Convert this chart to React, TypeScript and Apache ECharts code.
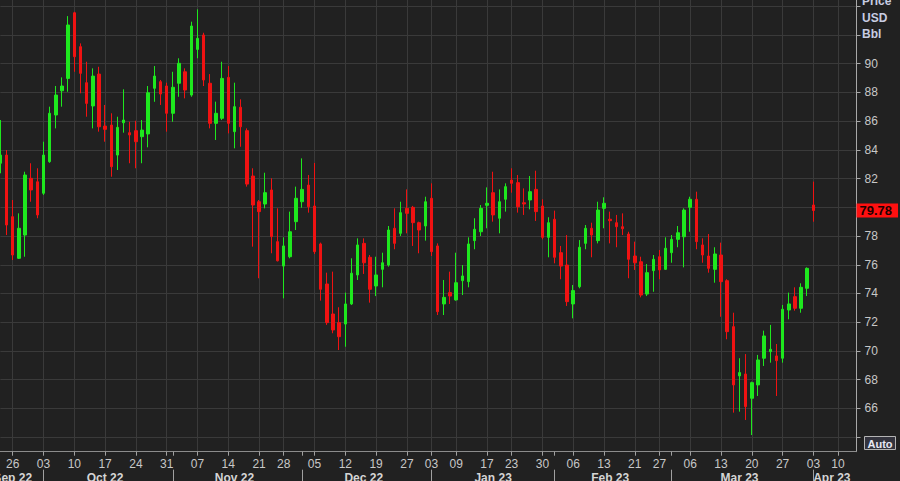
import { useEffect, useRef } from 'react';
import * as echarts from 'echarts';

// Trading days (categories), Sep 22 2022 -> Apr 13 2023
const dates: string[] = [
  '2022-09-22','2022-09-23','2022-09-26','2022-09-27','2022-09-28','2022-09-29','2022-09-30',
  '2022-10-03','2022-10-04','2022-10-05','2022-10-06','2022-10-07','2022-10-10','2022-10-11','2022-10-12','2022-10-13','2022-10-14',
  '2022-10-17','2022-10-18','2022-10-19','2022-10-20','2022-10-21','2022-10-24','2022-10-25','2022-10-26','2022-10-27','2022-10-28','2022-10-31',
  '2022-11-01','2022-11-02','2022-11-03','2022-11-04','2022-11-07','2022-11-08','2022-11-09','2022-11-10','2022-11-11',
  '2022-11-14','2022-11-15','2022-11-16','2022-11-17','2022-11-18','2022-11-21','2022-11-22','2022-11-23','2022-11-25',
  '2022-11-28','2022-11-29','2022-11-30',
  '2022-12-01','2022-12-02','2022-12-05','2022-12-06','2022-12-07','2022-12-08','2022-12-09','2022-12-12','2022-12-13','2022-12-14','2022-12-15','2022-12-16',
  '2022-12-19','2022-12-20','2022-12-21','2022-12-22','2022-12-23','2022-12-27','2022-12-28','2022-12-29','2022-12-30',
  '2023-01-03','2023-01-04','2023-01-05','2023-01-06','2023-01-09','2023-01-10','2023-01-11','2023-01-12','2023-01-13',
  '2023-01-17','2023-01-18','2023-01-19','2023-01-20','2023-01-23','2023-01-24','2023-01-25','2023-01-26','2023-01-27','2023-01-30','2023-01-31',
  '2023-02-01','2023-02-02','2023-02-03','2023-02-06','2023-02-07','2023-02-08','2023-02-09','2023-02-10','2023-02-13','2023-02-14','2023-02-15','2023-02-16','2023-02-17',
  '2023-02-21','2023-02-22','2023-02-23','2023-02-24','2023-02-27','2023-02-28',
  '2023-03-01','2023-03-02','2023-03-03','2023-03-06','2023-03-07','2023-03-08','2023-03-09','2023-03-10','2023-03-13','2023-03-14','2023-03-15','2023-03-16','2023-03-17',
  '2023-03-20','2023-03-21','2023-03-22','2023-03-23','2023-03-24','2023-03-27','2023-03-28','2023-03-29','2023-03-30','2023-03-31',
  '2023-04-03','2023-04-04','2023-04-05','2023-04-06','2023-04-10','2023-04-11','2023-04-12','2023-04-13',
];

const opens: number[] = [
  83.07,83.64,79.35,76.45,78.07,82.02,81.78,
  80.98,83.18,86.43,88.12,88.98,93.55,91.19,88.68,87.06,89.28,
  85.66,85.73,83.64,85.89,85.20,85.34,84.92,85.11,88.29,88.75,88.45,
  86.55,88.64,89.44,87.82,91.00,92.00,88.64,85.85,86.20,
  89.05,85.27,86.97,85.34,82.18,80.39,80.23,81.21,77.61,
  75.91,76.56,79.00,
  80.39,81.55,80.09,77.45,74.66,72.57,71.97,71.87,73.27,75.29,77.49,76.52,
  74.52,75.68,75.98,78.54,78.19,79.93,80.00,78.93,78.70,
  80.63,77.31,73.27,74.06,73.55,74.89,74.82,77.68,78.30,
  80.14,81.02,79.24,80.56,81.90,81.72,80.32,80.51,81.25,80.09,77.91,
  79.17,76.84,75.98,73.27,74.47,77.49,78.54,77.68,79.93,79.17,78.93,78.65,78.14,
  76.61,76.21,73.96,75.59,76.56,75.68,
  76.84,77.77,77.95,80.00,80.56,77.38,76.61,75.68,76.68,74.89,71.69,68.26,68.39,
  66.70,67.63,69.49,69.95,69.65,69.49,72.85,73.78,72.97,74.36,
  80.16,
];

const closes: number[] = [
  83.64,78.77,76.68,78.54,82.25,81.21,79.47,
  83.64,86.55,87.82,88.45,92.70,90.49,89.33,87.24,89.14,85.61,
  85.43,82.83,85.57,86.08,85.04,84.57,85.38,87.98,89.14,87.89,86.55,
  88.36,90.03,88.17,92.63,91.77,88.87,85.85,86.55,88.98,
  85.85,87.01,85.61,81.62,80.16,79.70,81.02,77.96,76.28,
  77.31,78.30,80.63,
  81.25,80.04,76.91,74.29,71.97,71.46,70.99,73.27,75.41,77.38,76.14,74.29,
  75.29,76.14,78.42,77.49,79.63,79.58,78.93,78.42,80.39,
  76.91,72.73,73.73,73.82,74.75,75.22,77.45,78.47,79.93,
  80.28,79.47,80.39,81.44,81.67,80.04,80.23,81.09,79.70,77.91,78.93,
  76.52,75.91,73.43,74.20,77.22,78.54,78.07,79.81,80.28,79.07,78.65,78.51,76.38,
  76.14,73.89,75.45,76.38,75.64,77.15,
  77.77,78.23,79.81,80.56,77.61,76.68,75.75,76.75,74.82,71.34,67.63,68.49,66.12,
  67.79,69.37,71.04,70.11,69.32,72.90,73.27,72.97,74.43,75.75,
  79.78,
];

const lows: number[] = [
  82.37,78.07,76.33,76.40,76.56,80.39,79.24,
  80.86,83.10,85.50,87.01,88.05,89.44,87.94,86.31,85.50,85.27,
  84.57,82.13,82.60,85.20,83.07,82.72,83.07,84.18,87.35,87.13,85.27,
  85.96,87.70,87.59,87.70,90.38,88.45,85.50,84.69,86.08,
  85.15,84.11,84.22,81.44,77.26,75.06,79.93,76.80,76.23,
  73.66,76.45,78.42,
  79.97,79.63,76.75,73.50,71.81,71.23,70.06,70.29,73.20,74.94,75.36,73.36,
  73.82,74.43,75.87,77.08,78.00,78.19,77.31,76.80,77.68,
  76.61,72.50,72.50,73.27,73.50,73.89,74.43,77.08,78.00,
  78.54,79.00,78.19,79.70,81.02,79.63,79.47,79.86,79.05,77.77,76.52,
  76.10,74.99,73.13,72.27,74.36,77.08,76.52,77.49,78.54,77.49,77.22,78.07,75.06,
  75.64,73.73,73.82,74.12,74.99,75.64,
  76.14,77.22,75.82,78.30,77.08,76.14,75.45,74.75,72.38,70.81,65.70,65.77,65.19,
  64.14,66.86,68.95,69.18,66.86,69.18,72.20,72.80,72.66,73.82,
  79.00,
];

const highs: number[] = [
  86.08,83.99,80.51,79.58,82.48,83.07,82.72,
  84.57,87.01,88.45,89.05,93.32,93.62,91.42,90.14,89.68,89.79,
  87.13,86.55,86.31,88.22,85.96,86.03,86.08,88.45,89.84,88.87,88.68,
  89.44,90.38,89.68,92.93,93.79,92.16,89.28,87.36,90.14,
  89.84,88.68,87.52,85.50,82.72,80.51,82.41,82.02,79.93,
  77.91,79.70,81.44,
  83.41,82.25,83.09,77.54,75.45,75.52,73.04,74.06,76.45,77.84,77.84,76.68,
  76.56,76.84,78.70,79.93,80.39,81.25,80.10,79.00,80.74,
  81.67,77.49,74.94,75.52,76.84,75.98,77.91,79.24,80.16,
  81.39,82.48,81.25,81.67,82.72,82.25,81.32,82.18,82.55,80.56,79.31,
  79.77,77.31,78.07,74.59,77.72,78.77,78.93,80.39,80.70,79.70,79.47,79.58,78.30,
  77.61,76.56,76.05,76.68,77.03,77.91,
  78.07,78.70,79.93,80.74,81.09,77.84,78.14,77.22,77.54,74.99,72.66,69.49,69.78,
  67.86,69.72,71.41,71.81,70.48,73.20,74.06,74.43,74.71,75.82,
  81.79,
];

const lastPrice = 79.78;
const yLabelValues = [66, 68, 70, 72, 74, 76, 78, 82, 84, 86, 88, 90];
const yTickValues = [64, 66, 68, 70, 72, 74, 76, 78, 80, 82, 84, 86, 88, 90, 92, 94];
const monthLabelDates = ['2022-09-26','2022-10-17','2022-11-15','2022-12-15','2023-01-18','2023-02-14','2023-03-16','2023-04-06'];
const monthNames = ['Jan','Feb','Mar','Apr','May','Jun','Jul','Aug','Sep','Oct','Nov','Dec'];
const axisTitle = 'Price\nUSD\nBbl';

const GREEN = '#1ee81e';
const RED = '#f01212';
const FONT = '"Liberation Sans", Arial, sans-serif';
const Y_MIN = 62.98;
const Y_MAX = 94.44;

const dow = (s: string) => new Date(s + 'T00:00:00Z').getUTCDay();
const isWeekStart = (i: number) => i > 0 && dow(dates[i]) < dow(dates[i - 1]);
const isMonthStart = (i: number) => i > 0 && dates[i].slice(5, 7) !== dates[i - 1].slice(5, 7);
const monthLabelSet = new Set(monthLabelDates);

export default function App() {
  const ref = useRef<HTMLDivElement>(null);
  useEffect(() => {
    if (!ref.current) return;
    const chart = echarts.init(ref.current, null, { renderer: 'svg' });
    const candleData = opens.map((o, i) => [o, closes[i], lows[i], highs[i]]);
    const option: any = {
      animation: false,
      backgroundColor: '#212121',
      textStyle: { fontFamily: FONT },
      grid: { left: 0.4, right: 43.5, top: 0, bottom: 29.3, containLabel: false, outerBoundsMode: 'none' },
      xAxis: [
        {
          type: 'category',
          data: dates,
          boundaryGap: false,
          axisLine: { show: true, lineStyle: { color: '#8c8c8c', width: 1 } },
          axisTick: {
            show: true,
            interval: (i: number) => isWeekStart(i) || isMonthStart(i),
            length: 4,
            lineStyle: { color: '#a0a0a0' },
          },
          axisLabel: {
            interval: (i: number) => isWeekStart(i),
            formatter: (v: string) => v.slice(8, 10),
            color: '#c8c8c8',
            fontSize: 12,
            fontFamily: FONT,
            margin: 6,
          },
          splitLine: {
            show: true,
            interval: (i: number) => isWeekStart(i),
            lineStyle: { color: '#3a3a3a', width: 1 },
          },
        },
        {
          type: 'category',
          data: dates,
          boundaryGap: false,
          position: 'bottom',
          offset: 18,
          axisLine: { show: false },
          axisTick: {
            show: true,
            interval: (i: number) => isMonthStart(i),
            length: 13,
            lineStyle: { color: '#a0a0a0' },
          },
          axisLabel: {
            interval: (i: number) => monthLabelSet.has(dates[i]),
            formatter: (v: string) => monthNames[parseInt(v.slice(5, 7), 10) - 1] + ' ' + v.slice(2, 4),
            color: '#d4d4d4',
            fontSize: 12,
            fontWeight: 'bold',
            fontFamily: FONT,
            margin: 2,
          },
          splitLine: { show: false },
        },
      ],
      yAxis: [
        {
          type: 'value',
          position: 'right',
          min: Y_MIN,
          max: Y_MAX,
          axisLine: { show: true, lineStyle: { color: '#a8a8a8', width: 1 } },
          axisTick: { show: true, customValues: yTickValues, length: 4, lineStyle: { color: '#a8a8a8' } },
          axisLabel: { customValues: yLabelValues, color: '#c8c8c8', fontSize: 12, fontFamily: FONT, margin: 8 },
          splitLine: { show: true, lineStyle: { color: '#3a3a3a', width: 1 } },
        },
        {
          type: 'value',
          position: 'right',
          min: Y_MIN,
          max: Y_MAX,
          axisLine: { show: false },
          axisTick: { show: false, customValues: [lastPrice] },
          splitLine: { show: false },
          axisLabel: {
            customValues: [lastPrice],
            formatter: (v: number) => v.toFixed(2),
            margin: 0,
            backgroundColor: '#ff1010',
            color: '#200000',
            fontWeight: 'bold',
            fontSize: 13,
            fontFamily: FONT,
            padding: [1, 6, 0, 3],
            lineHeight: 13,
          },
        },
      ],
      series: [
        {
          type: 'candlestick',
          data: candleData,
          barWidth: 3,
          itemStyle: {
            color: GREEN,
            color0: RED,
            borderColor: GREEN,
            borderColor0: RED,
            borderWidth: 1,
          },
        },
      ],
      graphic: [
        {
          type: 'text',
          x: 862,
          y: -7,
          silent: true,
          style: {
            text: axisTitle,
            fill: '#c8cde2',
            font: 'bold 12px ' + FONT,
            lineHeight: 16.5,
            verticalAlign: 'top',
          },
        },
        {
          type: 'rect',
          silent: true,
          shape: { x: 864.5, y: 436.5, width: 31, height: 13 },
          style: { fill: '#33333d', stroke: '#b4b4b4', lineWidth: 1 },
        },
        {
          type: 'text',
          x: 880,
          y: 443.5,
          silent: true,
          style: {
            text: 'Auto',
            fill: '#e8e8f4',
            font: 'bold 11px ' + FONT,
            align: 'center',
            verticalAlign: 'middle',
          },
        },
      ],
    };
    chart.setOption(option);
    return () => chart.dispose();
  }, []);
  return <div ref={ref} style={{ position: 'fixed', left: 0, top: 0, width: 900, height: 481 }} />;
}
